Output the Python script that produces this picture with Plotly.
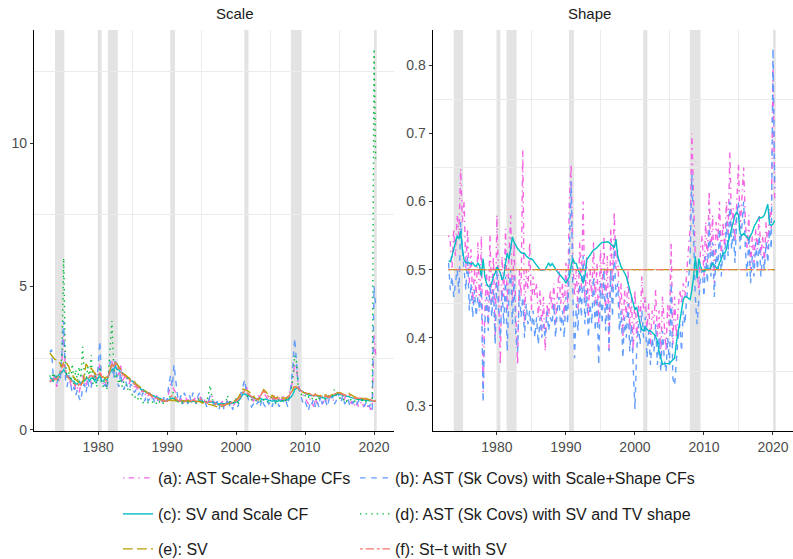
import plotly.graph_objects as go

# ---------------- data ----------------
quarters = [1973 + q / 4 for q in range(190)]  # 1973Q1 .. 2020Q2

scale_a = [1.7, 1.6, 1.8, 1.9, 1.5, 1.7, 1.8, 2.4, 3.3, 2.1, 1.8, 1.9, 1.6, 1.5, 1.7, 1.4, 1.5, 1.3, 1.6, 1.9,
           1.7, 1.5, 1.8, 1.9, 1.6, 1.7, 2.0, 1.8,
           2.0, 2.3, 1.8, 1.6, 1.7, 1.5, 1.9, 2.2, 2.4, 2.0, 2.3, 2.1, 1.9, 2.3, 1.7, 1.8, 1.9, 1.7, 1.6, 1.8,
           1.7, 1.5, 1.5, 1.4, 1.5, 1.3, 1.4, 1.2, 1.3, 1.2, 1.3, 1.1, 1.2, 1.1, 1.2, 1.0, 1.1, 1.0, 1.1, 1.0,
           1.1, 1.3, 1.6, 1.5, 1.4, 1.3, 1.1, 1.0, 1.1, 0.9, 1.0, 1.1, 1.0, 1.1, 0.9, 1.0, 1.1, 1.0, 1.1, 1.2,
           1.0, 1.1, 1.0, 0.9, 1.0, 1.1, 1.2, 1.0, 0.9, 1.0, 0.8, 0.9, 1.0, 0.8, 0.9, 1.0, 0.9, 1.0, 0.8, 0.9,
           1.0, 0.9, 1.1, 1.3, 1.4, 1.3, 1.5, 1.3, 1.2, 1.1, 1.0, 1.1, 1.0, 1.2, 1.1, 1.3, 1.35, 1.2, 1.1, 1.0,
           1.1, 1.0, 1.2, 1.1, 1.0, 1.1, 1.0, 1.2, 1.1, 1.0, 1.2, 1.3, 1.5, 1.8, 2.3, 2.2, 1.6, 1.4, 1.3, 1.2,
           1.1, 1.0, 0.9, 1.1, 1.0, 0.8, 1.1, 0.9, 1.0, 1.1, 0.9, 1.0, 1.1, 1.0, 1.2, 1.1, 1.0, 1.1, 1.2, 1.3,
           1.2, 1.1, 1.0, 1.1, 1.2, 1.0, 0.9, 1.0, 0.8, 0.9, 1.0, 0.8, 0.9, 1.0, 0.8, 0.9, 0.8, 0.9, 0.7, 0.8,
           3.3, 2.6]
scale_b = [2.7, 2.8, 1.8, 1.9, 1.6, 1.8, 1.7, 2.6, 3.8, 1.8, 1.5, 1.9, 1.6, 1.3, 1.5, 1.2, 1.4, 1.1, 1.0, 1.5,
           1.6, 1.3, 1.7, 1.4, 1.5, 1.8, 1.9, 1.6,
           2.2, 3.1, 1.6, 1.5, 1.6, 1.4, 1.8, 2.4, 2.3, 1.8, 2.5, 1.7, 1.5, 2.0, 1.6, 1.4, 1.7, 1.5, 1.4, 1.6,
           1.5, 1.3, 1.4, 1.2, 1.3, 1.1, 1.3, 1.0, 1.2, 1.0, 1.1, 1.0, 1.1, 0.9, 1.0, 1.1, 1.0, 0.9, 1.1, 1.2,
           1.0, 1.6, 1.9, 1.5, 2.27, 1.7, 1.2, 1.0, 1.2, 0.9, 1.3, 1.1, 0.9, 1.2, 1.0, 1.3, 1.0, 0.9, 1.2, 1.3,
           1.1, 0.9, 1.0, 0.8, 1.0, 1.2, 1.0, 0.9, 0.8, 1.0, 0.7, 0.9, 1.0, 0.7, 0.9, 1.0, 0.8, 1.0, 0.7, 0.9,
           1.1, 0.8, 1.0, 1.3, 1.5, 1.75, 1.3, 1.1, 0.9, 0.8, 0.9, 0.8, 0.9, 1.0, 0.8, 1.1, 0.9, 0.8, 1.0, 0.9,
           1.0, 0.8, 1.1, 0.9, 1.0, 0.8, 1.0, 1.1, 0.9, 1.0, 0.8, 1.2, 1.6, 2.3, 3.2, 2.4, 1.6, 1.3, 1.1, 0.9,
           1.0, 0.8, 0.65, 1.0, 0.9, 1.1, 0.8, 1.0, 0.8, 1.2, 0.9, 1.1, 1.0, 0.8, 1.1, 1.0, 1.2, 0.9, 1.0, 1.3,
           1.1, 1.0, 1.2, 0.9, 1.0, 1.1, 0.8, 0.9, 1.0, 0.8, 0.9, 1.0, 0.9, 1.1, 0.8, 0.9, 1.0, 0.8, 0.9, 0.7,
           5.0, 4.3]
scale_c = [1.8, 1.8, 1.7, 1.8, 1.8, 1.9, 2.0, 2.0, 2.1, 2.0, 1.9, 1.8, 1.8, 1.7, 1.7, 1.6, 1.6, 1.7, 1.6, 1.7,
           1.7, 1.8, 1.8, 1.7, 1.8, 1.8, 1.7, 1.8,
           1.8, 1.9, 1.7, 1.7, 1.8, 1.7, 1.9, 2.0, 2.1, 2.1, 2.2, 2.1, 2.1, 2.0, 2.0, 1.9, 1.9, 1.8, 1.8, 1.7,
           1.7, 1.6, 1.6, 1.5, 1.5, 1.4, 1.4, 1.35, 1.3, 1.3, 1.25, 1.2, 1.2, 1.15, 1.15, 1.1, 1.1, 1.05, 1.05, 1.0,
           1.0, 1.05, 1.1, 1.1, 1.1, 1.05, 1.0, 1.0, 1.0, 0.98, 1.0, 1.0, 0.98, 1.0, 0.97, 1.0, 1.0, 0.98, 1.0, 1.02,
           1.0, 0.98, 0.96, 0.95, 0.96, 0.98, 0.97, 0.95, 0.93, 0.92, 0.9, 0.92, 0.9, 0.9, 0.92, 0.93, 0.92, 0.95, 0.93, 0.95,
           0.97, 1.0, 1.05, 1.15, 1.25, 1.25, 1.22, 1.2, 1.18, 1.15, 1.12, 1.1, 1.08, 1.1, 1.08, 1.05, 1.05, 1.08, 1.05, 1.03,
           1.02, 1.0, 1.02, 1.0, 1.0, 1.02, 1.0, 1.02, 1.03, 1.05, 1.05, 1.1, 1.15, 1.25, 1.4, 1.45, 1.45, 1.4, 1.35, 1.3,
           1.28, 1.25, 1.22, 1.2, 1.2, 1.18, 1.2, 1.18, 1.15, 1.15, 1.12, 1.12, 1.1, 1.12, 1.15, 1.15, 1.18, 1.2, 1.22, 1.25,
           1.25, 1.22, 1.2, 1.2, 1.18, 1.15, 1.12, 1.1, 1.1, 1.08, 1.07, 1.05, 1.05, 1.05, 1.04, 1.03, 1.02, 1.02, 1.0, 1.0,
           1.0, 1.0]
scale_d = [1.9, 1.7, 2.0, 1.8, 1.9, 1.7, 2.0, 2.6, 6.0, 2.4, 1.8, 2.0, 1.7, 2.3, 1.6, 2.1, 1.7, 2.2, 1.8, 2.9,
           2.0, 1.7, 2.2, 1.8, 2.6, 1.6, 2.0, 1.5,
           1.8, 2.2, 1.6, 1.5, 1.8, 1.4, 2.0, 2.8, 3.8, 2.2, 1.8, 1.9, 1.6, 1.8, 1.5, 1.7, 1.6, 1.4, 1.5, 1.3,
           1.2, 1.1, 1.2, 1.1, 1.0, 1.1, 0.95, 1.0, 1.0, 0.95, 1.0, 1.0, 0.95, 1.0, 0.9, 1.0, 0.95, 1.0, 0.9, 1.0,
           1.0, 1.1, 1.2, 1.3, 1.3, 1.1, 1.0, 0.95, 1.0, 0.9, 1.0, 1.05, 0.95, 1.0, 0.95, 1.05, 1.0, 0.95, 1.1, 1.0,
           0.95, 1.0, 1.05, 0.95, 1.2, 1.55, 1.1, 1.0, 0.9, 0.95, 0.85, 0.9, 0.85, 0.9, 0.95, 1.2, 1.0, 0.95, 0.9, 1.0,
           1.0, 0.95, 1.05, 1.2, 1.3, 1.25, 1.2, 1.15, 1.1, 1.05, 1.0, 1.05, 1.0, 1.05, 1.0, 1.1, 1.05, 1.0, 0.95, 1.0,
           1.05, 1.2, 1.0, 0.95, 1.1, 1.0, 1.05, 1.0, 0.95, 1.05, 1.0, 1.2, 1.4, 1.9, 2.6, 2.4, 1.5, 1.3, 1.2, 1.15,
           1.2, 1.1, 1.15, 1.05, 1.1, 1.05, 1.1, 1.0, 1.1, 1.05, 1.2, 1.1, 1.05, 1.1, 1.2, 1.15, 1.2, 1.4, 1.2, 1.15,
           1.1, 1.15, 1.05, 1.1, 1.0, 1.05, 1.1, 1.0, 1.05, 1.0, 1.1, 1.05, 1.0, 1.05, 0.95, 1.0, 0.95, 1.0, 1.05, 1.0,
           13.3, 9.4]
scale_e = [2.68, 2.6, 2.5, 2.45, 2.45, 2.4, 2.3, 2.2, 2.35, 2.4, 2.3, 2.2, 2.0, 1.9, 1.85, 1.75, 1.7, 1.65, 1.6, 1.6,
           1.9, 2.3, 2.2, 2.1, 2.15, 2.05, 2.0, 1.9,
           1.9, 1.95, 1.85, 1.85, 1.8, 1.85, 1.9, 2.1, 2.3, 2.39, 2.35, 2.3, 2.2, 2.1, 2.0, 1.95, 1.9, 1.85, 1.8, 1.75,
           1.75, 1.7, 1.6, 1.55, 1.5, 1.45, 1.4, 1.35, 1.3, 1.28, 1.25, 1.2, 1.18, 1.15, 1.1, 1.08, 1.05, 1.05, 1.0, 1.0,
           0.98, 1.0, 1.05, 1.02, 1.05, 1.0, 1.02, 1.0, 1.0, 1.02, 0.98, 1.0, 1.02, 1.0, 0.98, 1.0, 1.0, 0.97, 1.0, 0.98,
           0.95, 0.93, 0.92, 0.9, 0.9, 0.88, 0.87, 0.85, 0.82, 0.8, 0.78, 0.8, 0.83, 0.85, 0.88, 0.9, 0.92, 0.95, 0.98, 1.0,
           1.05, 1.1, 1.2, 1.3, 1.42, 1.4, 1.38, 1.35, 1.3, 1.28, 1.2, 1.1, 1.08, 1.05, 1.15, 1.3, 1.4, 1.35, 1.25, 1.2,
           1.15, 1.2, 1.15, 1.1, 1.15, 1.2, 1.15, 1.1, 1.12, 1.1, 1.15, 1.2, 1.3, 1.4, 1.5, 1.5, 1.45, 1.4, 1.35, 1.3,
           1.3, 1.28, 1.25, 1.3, 1.22, 1.2, 1.25, 1.2, 1.18, 1.2, 1.15, 1.2, 1.22, 1.18, 1.15, 1.2, 1.25, 1.3, 1.28, 1.3,
           1.3, 1.28, 1.25, 1.22, 1.25, 1.3, 1.25, 1.2, 1.18, 1.15, 1.12, 1.15, 1.12, 1.1, 1.08, 1.1, 1.08, 1.05, 1.06, 1.04,
           1.02, 1.0]
scale_f = [1.7, 1.75, 1.7, 1.8, 1.75, 1.9, 2.0, 2.2, 2.3, 2.1, 1.9, 1.8, 1.7, 1.65, 1.6, 1.55, 1.5, 1.6, 1.55, 1.7,
           1.8, 1.75, 1.8, 1.85, 1.9, 1.85, 1.9, 1.8,
           1.9, 2.0, 1.85, 1.8, 1.75, 1.7, 1.9, 2.1, 2.3, 2.2, 2.35, 2.2, 2.1, 2.05, 1.95, 1.9, 1.85, 1.8, 1.75, 1.7,
           1.65, 1.6, 1.55, 1.5, 1.45, 1.4, 1.35, 1.3, 1.3, 1.25, 1.2, 1.18, 1.15, 1.12, 1.1, 1.08, 1.05, 1.05, 1.02, 1.0,
           1.0, 1.05, 1.15, 1.2, 1.15, 1.1, 1.05, 1.0, 1.0, 0.98, 1.0, 1.02, 1.0, 1.02, 1.0, 1.05, 1.02, 1.0, 1.05, 1.08,
           1.05, 1.0, 0.98, 0.95, 0.97, 1.0, 0.98, 0.95, 0.92, 0.9, 0.88, 0.87, 0.88, 0.86, 0.9, 0.93, 0.92, 0.95, 0.97, 1.0,
           1.0, 1.05, 1.1, 1.2, 1.3, 1.35, 1.3, 1.25, 1.2, 1.15, 1.12, 1.1, 1.08, 1.1, 1.2, 1.3, 1.35, 1.3, 1.2, 1.15,
           1.1, 1.12, 1.1, 1.08, 1.1, 1.12, 1.1, 1.08, 1.05, 1.1, 1.12, 1.2, 1.3, 1.45, 1.55, 1.5, 1.45, 1.4, 1.35, 1.3,
           1.3, 1.25, 1.22, 1.25, 1.2, 1.18, 1.22, 1.2, 1.15, 1.18, 1.12, 1.15, 1.18, 1.15, 1.12, 1.18, 1.2, 1.25, 1.28, 1.3,
           1.28, 1.25, 1.22, 1.2, 1.22, 1.25, 1.2, 1.15, 1.12, 1.1, 1.1, 1.12, 1.1, 1.08, 1.05, 1.08, 1.05, 1.03, 1.05, 1.02,
           1.0, 1.0]

shape_a = [0.55, 0.54, 0.50, 0.56, 0.52, 0.58, 0.55, 0.648, 0.57, 0.60, 0.50, 0.56, 0.48, 0.53, 0.45, 0.50,
           0.46, 0.54, 0.44, 0.55, 0.32, 0.44, 0.50, 0.42, 0.55, 0.45, 0.52, 0.40,
           0.58, 0.48, 0.36, 0.52, 0.46, 0.56, 0.44, 0.52, 0.58, 0.45, 0.54, 0.43, 0.36, 0.50, 0.46, 0.675,
           0.42, 0.50, 0.47, 0.54, 0.44, 0.49, 0.46, 0.48, 0.43, 0.47, 0.41, 0.46, 0.38, 0.45, 0.43, 0.47,
           0.44, 0.48, 0.42, 0.46, 0.50, 0.45, 0.48, 0.43,
           0.51, 0.45, 0.60, 0.655, 0.52, 0.46, 0.50, 0.44, 0.54, 0.47, 0.60, 0.45, 0.52, 0.43, 0.50, 0.46,
           0.54, 0.45, 0.51, 0.42, 0.53, 0.46, 0.55, 0.44, 0.52, 0.38, 0.56, 0.47, 0.585, 0.50, 0.53, 0.44,
           0.48, 0.40, 0.47, 0.43, 0.50, 0.41, 0.46, 0.38,
           0.47, 0.40, 0.45, 0.42, 0.49, 0.44, 0.46, 0.41, 0.45, 0.39, 0.44, 0.42, 0.47, 0.40, 0.44, 0.37,
           0.46, 0.42, 0.38, 0.45, 0.41, 0.54, 0.39, 0.46, 0.40, 0.44, 0.47, 0.45, 0.48, 0.46, 0.50, 0.53,
           0.56, 0.70, 0.60, 0.52, 0.50, 0.47, 0.53, 0.55,
           0.49, 0.57, 0.51, 0.615, 0.52, 0.58, 0.48, 0.57, 0.54, 0.60, 0.52, 0.57, 0.53, 0.60, 0.55, 0.672,
           0.56, 0.59, 0.54, 0.61, 0.655, 0.56, 0.60, 0.65, 0.57, 0.53, 0.58, 0.50, 0.55, 0.51, 0.56, 0.53,
           0.58, 0.52, 0.55, 0.51, 0.57, 0.53, 0.59, 0.56,
           0.80, 0.60]
shape_b = [0.51, 0.47, 0.49, 0.46, 0.48, 0.50, 0.465, 0.57, 0.53, 0.50, 0.47, 0.52, 0.44, 0.48, 0.43, 0.47,
           0.431, 0.46, 0.44, 0.48, 0.305, 0.42, 0.46, 0.41, 0.48, 0.43, 0.47, 0.39,
           0.50, 0.44, 0.40, 0.47, 0.42, 0.49, 0.38, 0.47, 0.50, 0.42, 0.49, 0.40, 0.38, 0.47, 0.43, 0.46,
           0.40, 0.45, 0.42, 0.44, 0.41, 0.44, 0.40, 0.43, 0.39, 0.43, 0.40, 0.42, 0.40, 0.44, 0.41, 0.43,
           0.42, 0.45, 0.40, 0.44, 0.46, 0.41, 0.44, 0.40,
           0.46, 0.42, 0.55, 0.63, 0.47, 0.37, 0.45, 0.41, 0.48, 0.43, 0.52, 0.42, 0.47, 0.40, 0.45, 0.42,
           0.49, 0.41, 0.46, 0.36, 0.48, 0.42, 0.50, 0.41, 0.47, 0.38, 0.50, 0.43, 0.53, 0.46, 0.48, 0.41,
           0.44, 0.37, 0.43, 0.40, 0.45, 0.38, 0.42, 0.36,
           0.295, 0.38, 0.42, 0.39, 0.44, 0.40, 0.43, 0.37, 0.41, 0.36, 0.40, 0.38, 0.42, 0.36, 0.40, 0.35,
           0.41, 0.37, 0.35, 0.40, 0.36, 0.48, 0.34, 0.33, 0.37, 0.40, 0.42, 0.38, 0.44, 0.42, 0.46, 0.48,
           0.52, 0.64, 0.55, 0.46, 0.42, 0.45, 0.49, 0.50,
           0.46, 0.52, 0.48, 0.57, 0.49, 0.54, 0.46, 0.53, 0.50, 0.56, 0.49, 0.53, 0.51, 0.57, 0.52, 0.60,
           0.53, 0.56, 0.51, 0.58, 0.60, 0.53, 0.57, 0.60, 0.53, 0.49, 0.55, 0.48, 0.52, 0.49, 0.54, 0.50,
           0.55, 0.49, 0.52, 0.50, 0.54, 0.51, 0.56, 0.53,
           0.825, 0.62]
shape_c = [0.513, 0.512, 0.52, 0.53, 0.54, 0.55, 0.545, 0.557, 0.53, 0.514, 0.51, 0.51, 0.51, 0.508, 0.51, 0.506,
           0.505, 0.51, 0.505, 0.49, 0.516, 0.49, 0.48, 0.475, 0.475, 0.48, 0.49, 0.495,
           0.504, 0.5, 0.495, 0.485, 0.49, 0.51, 0.524, 0.515, 0.53, 0.548, 0.54, 0.535, 0.531, 0.528, 0.525, 0.524,
           0.524, 0.52, 0.518, 0.516, 0.516, 0.514, 0.51, 0.506, 0.502, 0.5, 0.499, 0.499, 0.5, 0.505, 0.51, 0.505,
           0.509, 0.505, 0.5, 0.497, 0.494, 0.49, 0.488, 0.485,
           0.48, 0.485, 0.49, 0.505, 0.516, 0.51, 0.509, 0.5, 0.494, 0.49, 0.48, 0.49, 0.514, 0.518, 0.52, 0.525,
           0.529, 0.53, 0.532, 0.535, 0.538, 0.54, 0.54, 0.541, 0.541, 0.54, 0.538, 0.535, 0.532, 0.545, 0.52, 0.51,
           0.504, 0.5, 0.495, 0.49, 0.48, 0.47, 0.46, 0.45,
           0.441, 0.445, 0.43, 0.42, 0.412, 0.41, 0.415, 0.412, 0.41, 0.41, 0.408, 0.405, 0.402, 0.395, 0.38, 0.37,
           0.361, 0.362, 0.362, 0.361, 0.362, 0.365, 0.368, 0.37, 0.392, 0.41, 0.426, 0.44, 0.456, 0.46, 0.46, 0.458,
           0.456, 0.47, 0.49, 0.519, 0.487, 0.516, 0.505, 0.499,
           0.497, 0.5, 0.502, 0.5, 0.505, 0.509, 0.507, 0.504, 0.5, 0.51, 0.515, 0.524, 0.524, 0.53, 0.54, 0.548,
           0.56, 0.57, 0.58, 0.585, 0.58, 0.553, 0.55, 0.553, 0.55, 0.548, 0.545, 0.55, 0.555, 0.563, 0.568, 0.572,
           0.577, 0.576, 0.577, 0.58, 0.588, 0.596, 0.567, 0.565,
           0.567, 0.572]
shape_flat_years = [1973.0, 2020.25]
shape_d = [0.5, 0.5]
shape_e = [0.5, 0.5]
shape_f = [0.5, 0.5]

recessions = [(1973.75, 1975.1), (1979.95, 1980.5), (1981.4, 1982.85), (1990.45, 1991.15),
              (2001.2, 2001.8), (2007.95, 2009.5), (2020.0, 2020.4)]

labels = ["(a): AST Scale+Shape CFs", "(b): AST (Sk Covs) with Scale+Shape CFs",
          "(c): SV and Scale CF", "(d): AST (Sk Covs) with SV and TV shape",
          "(e): SV", "(f): St\u2212t with SV"]

# ---------------- styles ----------------
colors = ["#F564E3", "#619CFF", "#00BFC4", "#00BA38", "#B79F00", "#F8766D"]
dashes = ["1.4px,4.2px,5.6px,4.2px", "5.6px,5.6px", "solid", "1.4px,4.2px",
          "9.8px,4.2px", "2.8px,2.8px,8.4px,2.8px"]
FONT = "Liberation Sans, Arial, sans-serif"

scale_series = [scale_a, scale_b, scale_c, scale_d, scale_e, scale_f]
shape_series = [(quarters, shape_a), (quarters, shape_b), (quarters, shape_c),
                (shape_flat_years, shape_d), (shape_flat_years, shape_e), (shape_flat_years, shape_f)]

fig = go.Figure()
legend_names = ["legend", "legend2", "legend3", "legend4", "legend5", "legend6"]

for i, ys in enumerate(scale_series):
    fig.add_trace(go.Scatter(x=quarters, y=ys, mode="lines", name=labels[i],
                             line=dict(color=colors[i], width=1.4, dash=dashes[i]),
                             xaxis="x", yaxis="y", legend=legend_names[i], showlegend=True))
for i, (xs, ys) in enumerate(shape_series):
    fig.add_trace(go.Scatter(x=xs, y=ys, mode="lines", name=labels[i],
                             line=dict(color=colors[i], width=1.4, dash=dashes[i]),
                             xaxis="x2", yaxis="y2", showlegend=False))

shapes = []
for xr_, yr_ in (("x", "y domain"), ("x2", "y2 domain")):
    for r0, r1 in recessions:
        shapes.append(dict(type="rect", xref=xr_, yref=yr_, x0=r0, x1=r1, y0=0, y1=1,
                           fillcolor="#E3E3E3", line=dict(width=0), layer="below"))

W, H = 793, 559
ml, mr, mt, mb = 34, 0, 30, 128
pw = W - ml - mr
ph = H - mt - mb

axis_common = dict(showline=True, linecolor="black", linewidth=1.2, ticks="outside",
                   ticklen=3, tickcolor="#333333", tickwidth=1, automargin=False,
                   tickfont=dict(family=FONT, size=14, color="#4D4D4D"),
                   showgrid=False, zeroline=False)
grid_color = "#EBEBEB"

xr = [1970.7, 2022.9]
fig.update_layout(
    template="none",
    width=W, height=H, margin=dict(l=ml, r=mr, t=mt, b=mb, autoexpand=False),
    plot_bgcolor="white", paper_bgcolor="white",
    font=dict(family=FONT, color="#1A1A1A"),
    xaxis=dict(domain=[0, 360 / pw], range=xr, anchor="y", tickvals=[1980, 1990, 2000, 2010, 2020],
               minor=dict(tickvals=[1985, 1995, 2005, 2015], showgrid=True, gridcolor=grid_color,
                          gridwidth=1, ticks=""), **axis_common),
    yaxis=dict(domain=[0, 1], range=[-0.04, 13.95], anchor="x", tickvals=[0, 5, 10],
               minor=dict(tickvals=[2.5, 7.5, 12.5], showgrid=True, gridcolor=grid_color,
                          gridwidth=1, ticks=""), **axis_common),
    xaxis2=dict(domain=[(432.7 - ml) / pw, 1], range=xr, anchor="y2",
                tickvals=[1980, 1990, 2000, 2010, 2020],
                minor=dict(tickvals=[1985, 1995, 2005, 2015], showgrid=True, gridcolor=grid_color,
                           gridwidth=1, ticks=""), **axis_common),
    yaxis2=dict(domain=[0, 1], range=[0.263, 0.852], anchor="x2",
                tickvals=[0.3, 0.4, 0.5, 0.6, 0.7, 0.8],
                minor=dict(tickvals=[0.35, 0.45, 0.55, 0.65, 0.75], showgrid=True, gridcolor=grid_color,
                           gridwidth=1, ticks=""), **axis_common),
    shapes=shapes,
    annotations=[
        dict(text="Scale", x=180 / pw, xref="paper", y=1, yref="paper", yanchor="bottom",
             yshift=6, showarrow=False, font=dict(family=FONT, size=15, color="#1A1A1A")),
        dict(text="Shape", x=((432.7 - ml) / pw + 1) / 2, xref="paper", y=1, yref="paper",
             yanchor="bottom", yshift=6, showarrow=False, font=dict(family=FONT, size=15, color="#1A1A1A")),
    ],
)

# six single-entry legends arranged as a 2x3 grid (positions in container pixels)
col_x = [118.0, 355.0]
row_y = [478, 514, 549]
for i, name in enumerate(legend_names):
    px = col_x[i % 2]
    py = row_y[i // 2]
    fig.update_layout({name: dict(
        x=px / W, xref="container", xanchor="left",
        y=(H - py) / H, yref="container", yanchor="middle",
        orientation="v", bgcolor="rgba(0,0,0,0)", borderwidth=0,
        itemwidth=30, font=dict(family=FONT, size=16, color="#1A1A1A"),
    )})

fig.write_html("out.html", config={"displayModeBar": False},
               post_script="document.body.style.margin='0';")
